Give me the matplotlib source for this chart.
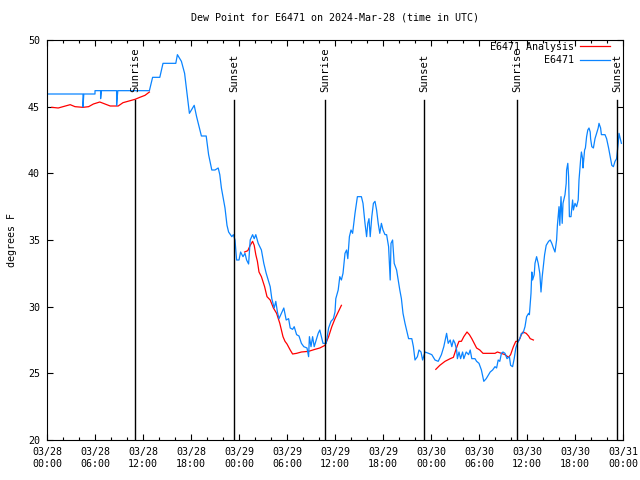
import numpy as np
import pandas as pd
import matplotlib
matplotlib.use("Agg")
import matplotlib.pyplot as plt
import matplotlib.dates as mdates

# ---- data (hours since 2024-03-28 00:00 UTC, degrees F) ----
obs_hours = [0.12, 4.5, 4.5, 4.6, 6.0, 6.0, 6.7, 6.7, 6.8, 8.7, 8.7, 8.85, 12.8, 13.2, 14.1, 14.5, 16.1, 16.3,
             16.8, 17.2, 17.5, 17.8, 18.4, 18.7, 19.3, 19.9, 20.2, 20.6, 21.0, 21.4, 21.6, 21.8, 22.25, 22.5,
             22.7, 23.1, 23.3, 23.5, 23.7, 24.0, 24.2, 24.5, 24.75, 24.95, 25.2, 25.4, 25.7, 25.9, 26.1, 26.4,
             26.8, 27.1, 27.4, 27.7, 27.9, 28.1, 28.4, 28.6, 28.8, 29.0, 29.3, 29.6, 29.9, 30.2, 30.4, 30.7,
             30.9, 31.2, 31.5, 31.8, 32.1, 32.5, 32.7, 32.8, 33.0, 33.2, 33.4, 33.7, 33.9, 34.1, 34.3, 34.5,
             34.9, 35.2, 35.5, 35.8, 36.0, 36.1, 36.4, 36.6, 36.8, 37.0, 37.25, 37.45, 37.6, 37.8, 38.0, 38.2,
             38.5, 38.8, 39.3, 39.5, 39.75, 39.95, 40.1, 40.25, 40.4, 40.6, 40.8, 41.0, 41.2, 41.4, 41.6, 41.8,
             42.0, 42.25, 42.45, 42.7, 42.9, 43.0, 43.2, 43.4, 43.7, 43.9, 44.1, 44.3, 44.5, 44.75, 44.95, 45.2,
             45.6, 45.8, 46.0, 46.3, 46.5, 46.75, 46.95, 47.25, 47.7, 48.1, 48.5, 48.9, 49.3, 49.6, 49.95, 50.15,
             50.4, 50.6, 50.8, 51.0, 51.2, 51.3, 51.5, 51.7, 51.95, 52.1, 52.4, 52.7, 52.9, 53.1, 53.5, 53.7,
             54.0, 54.3, 54.6, 54.9, 55.2, 55.4, 55.7, 56.0, 56.2, 56.4, 56.6, 56.8, 57.0, 57.25, 57.5, 57.8,
             57.95, 58.2, 58.4, 58.6, 58.8, 59.1, 59.3, 59.5, 59.75, 59.95, 60.2, 60.3, 60.4, 60.5, 60.6, 60.7,
             60.9, 61.0, 61.2, 61.4, 61.6, 61.75, 61.9, 62.2, 62.4, 62.7, 62.9, 63.1, 63.3, 63.5, 63.7, 63.8,
             64.0, 64.1, 64.25, 64.4, 64.5, 64.75, 64.9, 64.95, 65.1, 65.2, 65.3, 65.5, 65.7, 65.8, 66.0, 66.2,
             66.4, 66.5, 66.7, 66.8, 66.95, 67.0, 67.2, 67.3, 67.45, 67.6, 67.75, 67.9, 67.95, 68.1, 68.3, 68.5,
             68.7, 68.9, 69.0, 69.2, 69.3, 69.75, 69.95, 70.2, 70.4, 70.6, 70.8, 71.0, 71.2, 71.4, 71.5, 71.7,
             71.8]
obs_values = [45.95, 45.95, 44.98, 45.95, 45.95, 46.2, 46.2, 45.6, 46.2, 46.2, 45.1, 46.2, 46.2, 47.2, 47.2,
              48.25, 48.25, 48.9, 48.4, 47.5, 46.0, 44.5, 45.1, 44.25, 42.8, 42.8, 41.4, 40.25, 40.25, 40.4,
              39.9, 38.9, 37.4, 36.1, 35.6, 35.25, 35.4, 35.0, 33.5, 33.5, 34.1, 33.75, 34.0, 33.5, 33.2, 35.0,
              35.4, 35.1, 35.4, 34.75, 34.25, 33.25, 32.5, 31.9, 31.5, 30.6, 29.9, 30.4, 29.6, 29.1, 29.5, 29.9,
              29.0, 29.1, 28.4, 28.3, 28.5, 27.9, 27.8, 27.25, 27.0, 26.9, 26.25, 27.75, 27.0, 27.75, 27.0, 27.6,
              28.0, 28.25, 27.75, 27.25, 27.25, 28.4, 28.9, 29.1, 29.6, 30.6, 31.25, 32.25, 32.0, 32.5, 34.0,
              34.25, 33.6, 35.25, 35.75, 35.5, 37.0, 38.25, 38.25, 37.75, 36.25, 35.25, 36.25, 36.6, 35.25,
              36.75, 37.75, 37.9, 37.25, 36.25, 35.5, 36.25, 35.75, 35.4, 35.4, 34.5, 32.0, 34.75, 35.0, 33.25,
              32.75, 32.0, 31.25, 30.6, 29.5, 28.75, 28.25, 27.6, 27.6, 27.0, 26.0, 26.25, 26.75, 26.6, 26.0,
              26.6, 26.5, 26.4, 26.0, 25.9, 26.4, 27.0, 28.0, 27.25, 27.5, 27.0, 27.5, 27.25, 26.75, 26.1, 26.6,
              26.1, 26.6, 26.1, 26.6, 26.4, 26.75, 26.1, 26.1, 25.9, 25.75, 25.25, 24.4, 24.6, 24.9, 25.1, 25.25,
              25.5, 25.4, 26.0, 25.9, 26.5, 26.6, 26.5, 26.1, 26.25, 25.6, 25.5, 26.1, 26.9, 27.25, 27.6, 28.0,
              28.0, 28.5, 29.25, 29.5, 29.4, 30.25, 31.0, 32.6, 32.0, 32.4, 33.25, 33.75, 33.25, 32.5, 31.1,
              32.25, 33.9, 34.6, 34.9, 35.0, 34.75, 34.4, 34.1, 35.0, 36.1, 37.5, 36.1, 38.25, 36.25, 37.75,
              38.4, 39.25, 40.25, 40.75, 39.75, 36.75, 36.75, 38.0, 37.25, 37.75, 37.5, 38.0, 39.5, 41.0, 41.6,
              41.1, 40.4, 41.75, 41.9, 42.75, 43.25, 43.4, 43.1, 42.6, 42.0, 41.9, 42.6, 43.0, 43.4, 43.75, 43.4,
              42.9, 42.9, 42.6, 41.9, 41.25, 40.6, 40.5, 40.9, 41.1, 42.25, 43.0, 42.5, 42.25]

ana1_hours = [0.6, 1.4, 2.0, 2.9, 3.5, 4.5, 5.2, 5.8, 6.6, 7.25, 7.9, 8.9, 9.5, 10.4, 11.0, 11.6, 12.25, 12.8]
ana1_values = [44.95, 44.9, 45.0, 45.15, 45.0, 44.95, 45.0, 45.2, 45.35, 45.2, 45.05, 45.05, 45.3, 45.45, 45.55,
               45.7, 45.85, 46.1]
ana2_hours = [24.7, 25.1, 25.4, 25.7, 25.9, 26.1, 26.3, 26.5, 26.8, 27.2, 27.5, 27.9, 28.3, 28.7, 29.1, 29.5,
              29.75, 30.0, 30.4, 30.7, 31.2, 31.8, 32.7, 33.5, 34.1, 34.75, 35.2, 35.6, 36.0, 36.4, 36.8]
ana2_values = [34.1, 34.2, 34.6, 34.9, 34.6, 33.9, 33.4, 32.6, 32.25, 31.5, 30.75, 30.5, 29.9, 29.5, 28.75,
               27.75, 27.4, 27.2, 26.75, 26.45, 26.5, 26.6, 26.65, 26.8, 26.9, 27.1, 27.75, 28.5, 29.1, 29.6, 30.1]
ana3_hours = [48.6, 49.1, 49.75, 50.4, 50.8, 51.1, 51.3, 51.5, 51.8, 52.1, 52.5, 52.8, 53.1, 53.4, 53.7, 54.1,
              54.5, 54.9, 55.4, 56.0, 56.3, 56.8, 57.25, 57.7, 57.95, 58.3, 58.6, 58.9, 59.1, 59.3, 59.5, 59.9,
              60.2, 60.4, 60.8]
ana3_values = [25.3, 25.6, 25.9, 26.1, 26.2, 26.75, 27.1, 27.4, 27.4, 27.75, 28.1, 27.9, 27.6, 27.25, 26.9,
               26.75, 26.5, 26.5, 26.5, 26.5, 26.6, 26.5, 26.4, 26.2, 26.4, 27.0, 27.4, 27.4, 27.6, 27.9, 28.1,
               28.0, 27.8, 27.6, 27.5]

sun_hours = [11.0, 23.4, 34.75, 47.1, 58.75, 71.25]
sun_labels = ["Sunrise", "Sunset", "Sunrise", "Sunset", "Sunrise", "Sunset"]

start = pd.Timestamp("2024-03-28 00:00")
end = pd.Timestamp("2024-03-31 00:00")


def to_time(hours):
    return start + pd.to_timedelta(np.asarray(hours, dtype=float), unit="h")


FONT = "DejaVu Sans Mono"
FS = 7.2
plt.rcParams["font.family"] = FONT
plt.rcParams["font.size"] = FS

fig = plt.figure(figsize=(6.4, 4.8), dpi=100)
ax = fig.add_axes([47 / 640, 40 / 480, 576 / 640, 400 / 480])

blue = "#0a84ff"
red = "#ff0000"

ax.plot(to_time(ana1_hours), ana1_values, color=red, lw=0.9, label="E6471 Analysis")
ax.plot(to_time(ana2_hours), ana2_values, color=red, lw=0.9)
ax.plot(to_time(ana3_hours), ana3_values, color=red, lw=0.9)
ax.plot(to_time(obs_hours), obs_values, color=blue, lw=0.9, label="E6471")

for h, lab in zip(sun_hours, sun_labels):
    t = to_time([h])[0]
    ax.plot([t, t], [20, 45.5], color="black", lw=1.0)
    ax.text(t, 46.1, lab, rotation=90, ha="center", va="bottom", fontsize=7.6, family=FONT)

ax.set_xlim(start, end)
ax.set_ylim(20, 50)
ax.set_yticks([20, 25, 30, 35, 40, 45, 50])
ax.xaxis.set_major_locator(mdates.HourLocator(byhour=[0, 6, 12, 18]))
ax.xaxis.set_minor_locator(mdates.HourLocator(byhour=range(0, 24, 2)))
ax.xaxis.set_major_formatter(mdates.DateFormatter("%m/%d\n%H:%M"))

ax.tick_params(which="both", direction="in", top=True, right=True, width=0.8)
ax.tick_params(which="major", length=4.5)
ax.tick_params(which="minor", length=2.5)
ax.tick_params(axis="x", pad=5)
ax.tick_params(axis="y", pad=5)
for s in ax.spines.values():
    s.set_linewidth(0.8)

ax.set_ylabel("degrees F", fontsize=FS, labelpad=8)
ax.set_title("Dew Point for E6471 on 2024-Mar-28 (time in UTC)", fontsize=FS, pad=14)

ax.legend(loc="upper right", bbox_to_anchor=(0.977, 0.995), frameon=False, markerfirst=False,
          handlelength=3.0, handletextpad=0.6, labelspacing=0.35, borderpad=0, borderaxespad=0,
          fontsize=FS)

fig.savefig("out.png", dpi=100)
